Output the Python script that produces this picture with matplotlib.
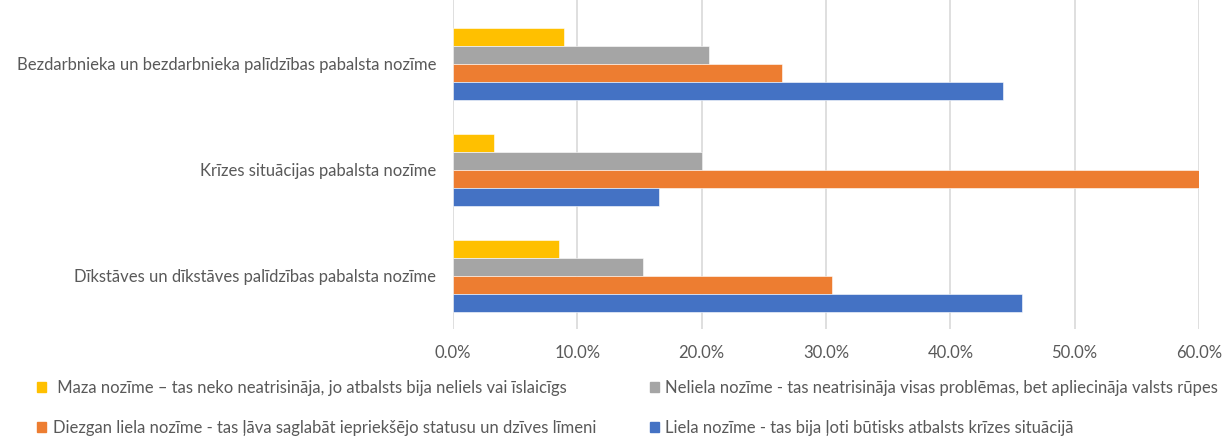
import numpy as np
import matplotlib
matplotlib.use("Agg")
import matplotlib.pyplot as plt
from matplotlib.patches import Patch
from matplotlib.ticker import FuncFormatter

plt.rcParams['font.family'] = ['Lato', 'DejaVu Sans']

categories = [
    'Bezdarbnieka un bezdarbnieka palīdzības pabalsta nozīme',
    'Krīzes situācijas pabalsta nozīme',
    'Dīkstāves un dīkstāves palīdzības pabalsta nozīme',
]
# values in %, per category (top to bottom)
maza = [8.9, 3.3, 8.5]
neliela = [20.6, 20.0, 15.3]
diezgan = [26.5, 60.0, 30.5]
liela = [44.2, 16.6, 45.8]

series_labels = [
    ' Maza nozīme – tas neko neatrisināja, jo atbalsts bija neliels vai īslaicīgs',
    'Neliela nozīme - tas neatrisināja visas problēmas, bet apliecināja valsts rūpes',
    'Diezgan liela nozīme - tas ļāva saglabāt iepriekšējo statusu un dzīves līmeni',
    'Liela nozīme - tas bija ļoti būtisks atbalsts krīzes situācijā',
]
colors = ['#FFC000', '#A5A5A5', '#ED7D31', '#4472C4']
TXT = '#595959'
FS = 12

fig = plt.figure(figsize=(12.23, 4.36), dpi=100)
ax = fig.add_axes([453 / 1223, 107.5 / 436, (1199 - 453) / 1223, 328.5 / 436])

y = np.arange(len(categories))
h = 0.17
all_series = [maza, neliela, diezgan, liela]
for i, (vals, col) in enumerate(zip(all_series, colors)):
    ax.barh(y + (i - 1.5) * h, vals, height=h, color=col,
            edgecolor='white', linewidth=0.4, zorder=3)

ax.set_xlim(0, 60)
# top category centre sits about 64 px below the figure top, 106 px per category
ax.set_ylim(2.5, -0.5 - 11 / 106)
ax.set_xticks(np.arange(0, 61, 10))
ax.xaxis.set_major_formatter(FuncFormatter(lambda v, p: f'{v:.1f}%'))
ax.set_yticks(y)
ax.set_yticklabels(categories)
ax.grid(axis='x', color='#D9D9D9', linewidth=1.2, zorder=0)
for s in ax.spines.values():
    s.set_visible(False)
ax.tick_params(axis='both', length=0, labelsize=FS, colors=TXT)
ax.tick_params(axis='y', pad=12)
ax.tick_params(axis='x', pad=12)

handles = [Patch(color=c) for c in colors]
order = [0, 2, 1, 3]
fig.legend([handles[k] for k in order], [series_labels[k] for k in order],
           ncol=2, loc='lower left', bbox_to_anchor=(0.018, -0.035),
           frameon=False, fontsize=FS, labelcolor=TXT,
           handlelength=0.55, handleheight=0.55, handletextpad=0.4,
           labelspacing=1.45, columnspacing=3.2)

fig.savefig('out.png', dpi=100)
